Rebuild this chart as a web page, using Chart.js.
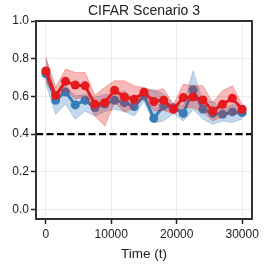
<!DOCTYPE html>
<html>
<head>
<meta charset="utf-8">
<script src="https://cdn.jsdelivr.net/npm/chart.js@4"></script>
<style>
  html, body { margin: 0; padding: 0; background: #fff; }
  #wrap { width: 266px; height: 266px; }
</style>
</head>
<body>
<div id="wrap"><canvas id="chart" width="266" height="266"></canvas></div>
<script>
// time steps
const steps = [0, 1500, 3000, 4500, 6000, 7500, 9000, 10500, 12000, 13500, 15000,
               16500, 18000, 19500, 21000, 22500, 24000, 25500, 27000, 28500, 30000];

// red series (mean, upper, lower)
const redMean  = [0.735, 0.605, 0.68, 0.66, 0.656, 0.558, 0.567, 0.633, 0.597, 0.585, 0.622,
                  0.573, 0.58, 0.532, 0.594, 0.597, 0.581, 0.523, 0.558, 0.59, 0.532];
const redUpper = [0.81, 0.647, 0.745, 0.727, 0.727, 0.606, 0.647, 0.683, 0.683, 0.655, 0.647,
                  0.63, 0.64, 0.558, 0.665, 0.657, 0.657, 0.567, 0.63, 0.657, 0.558];
const redLower = [0.68, 0.585, 0.63, 0.585, 0.60, 0.496, 0.443, 0.568, 0.516, 0.54, 0.594,
                  0.523, 0.525, 0.51, 0.54, 0.54, 0.52, 0.47, 0.493, 0.51, 0.505];

// blue series (mean, upper, lower)
const blueMean  = [0.72, 0.58, 0.624, 0.555, 0.58, 0.54, 0.56, 0.58, 0.567, 0.546, 0.603,
                   0.484, 0.55, 0.54, 0.51, 0.635, 0.532, 0.51, 0.505, 0.518, 0.514];
const blueUpper = [0.80, 0.61, 0.655, 0.603, 0.61, 0.596, 0.61, 0.61, 0.63, 0.585, 0.635,
                   0.635, 0.612, 0.558, 0.55, 0.736, 0.575, 0.575, 0.533, 0.558, 0.54];
const blueLower = [0.67, 0.505, 0.558, 0.479, 0.523, 0.496, 0.52, 0.532, 0.52, 0.496, 0.575,
                   0.461, 0.47, 0.51, 0.47, 0.53, 0.48, 0.452, 0.47, 0.462, 0.48];

const threshold = 0.4;
const xTicks = [0, 10000, 20000, 30000];
const yTicks = [0.0, 0.2, 0.4, 0.6, 0.8, 1.0];
const titleText = 'CIFAR Scenario 3';

const RED = '#e41a1c';
const BLUE = '#377eb8';

const pts = arr => arr.map((v, i) => ({ x: steps[i], y: v }));

const band = (arr, color, fill) => ({
  data: pts(arr),
  borderWidth: 1,
  borderColor: color,
  backgroundColor: color,
  pointRadius: 0,
  fill: fill,
  tension: 0
});

const mean = (arr, color) => ({
  data: pts(arr),
  borderColor: color,
  backgroundColor: color,
  borderWidth: 3,
  pointRadius: 4.5,
  pointBorderWidth: 0,
  fill: false
});

// frame around the axes + title centred over the plot area
const boxPlugin = {
  id: 'box',
  afterDraw(chart) {
    const { ctx, chartArea: a } = chart;
    ctx.save();
    ctx.strokeStyle = '#333';
    ctx.lineWidth = 2;
    ctx.strokeRect(a.left, a.top, a.right - a.left, a.bottom - a.top);
    ctx.fillStyle = '#222';
    ctx.font = '14px "Liberation Sans"';
    ctx.textAlign = 'center';
    ctx.textBaseline = 'middle';
    ctx.fillText(titleText, (a.left + a.right) / 2, a.top - 10);
    ctx.restore();
  }
};

new Chart(document.getElementById('chart'), {
  type: 'line',
  data: {
    datasets: [
      mean(redMean, RED),
      band(redUpper, 'rgba(228,26,28,0.3)', '+1'),
      band(redLower, 'rgba(228,26,28,0.3)', false),
      mean(blueMean, BLUE),
      band(blueUpper, 'rgba(55,126,184,0.3)', '+1'),
      band(blueLower, 'rgba(55,126,184,0.3)', false),
      {
        data: [{ x: -1500, y: threshold }, { x: 31500, y: threshold }],
        borderColor: '#000',
        borderWidth: 2.2,
        borderDash: [7, 3.5],
        pointRadius: 0,
        fill: false
      }
    ]
  },
  plugins: [boxPlugin],
  options: {
    responsive: false,
    animation: false,
    layout: { padding: { top: 21, right: 14, left: 0, bottom: 0 } },
    plugins: {
      legend: { display: false },
      tooltip: { enabled: false },
      title: { display: false }
    },
    scales: {
      x: {
        type: 'linear',
        min: -1500,
        max: 31500,
        afterBuildTicks: s => { s.ticks = xTicks.map(v => ({ value: v })); },
        afterFit: s => { s.height = 47; },
        grid: { color: '#ebebeb', tickColor: '#222', tickLength: 5, tickWidth: 1.5 },
        border: { display: false },
        ticks: {
          color: '#222',
          font: { family: 'Liberation Sans', size: 12 },
          padding: 3,
          maxRotation: 0,
          callback: v => String(v)
        },
        title: {
          display: true,
          text: 'Time (t)',
          color: '#222',
          font: { family: 'Liberation Sans', size: 13.5 },
          padding: { top: 0, bottom: 4 }
        }
      },
      y: {
        min: -0.05,
        max: 1.0,
        afterBuildTicks: s => { s.ticks = yTicks.map(v => ({ value: v })); },
        afterFit: s => { s.width = 36; },
        grid: { color: '#ebebeb', tickColor: '#222', tickLength: 5, tickWidth: 1.5 },
        border: { display: false },
        ticks: {
          color: '#222',
          font: { family: 'Liberation Sans', size: 12 },
          padding: 2,
          callback: v => v.toFixed(1)
        }
      }
    }
  }
});
</script>
</body>
</html>
